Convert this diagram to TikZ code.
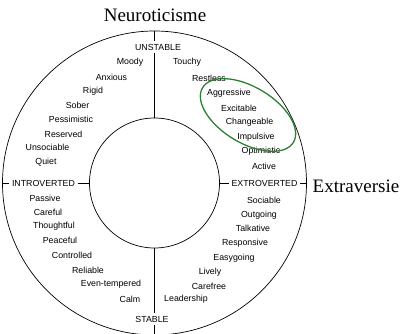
\documentclass[tikz,border=0pt]{standalone}
\usepackage{fontspec}
\setmainfont{Liberation Serif}
\setsansfont{Liberation Sans}
\usepackage{tikz}
\definecolor{ringgreen}{RGB}{45,128,48}

\begin{document}
\begin{tikzpicture}[x=1pt,y=-1pt]
\tikzstyle{trait}=[font=\fontsize{8.8}{10}\sffamily, inner sep=0pt]
\tikzstyle{pole}=[trait, fill=white, inner sep=2.5pt]
\tikzstyle{axis}=[font=\fontsize{19}{22}\selectfont, inner sep=0pt]
\tikzstyle{ring}=[circle, draw, line width=0.7pt, inner sep=0pt]
\useasboundingbox (0,0) rectangle (400,334);
\node[ring, minimum size=304pt] (outer) at (154.5,183) {};
\node[ring, minimum size=130pt] (inner) at (154.5,183) {};

\node[axis] (neuro) at (155,15) {Neuroticisme};
\node[axis] (extra) at (356,186) {Extraversie};

\node[pole] (unstable) at (158,47) {UNSTABLE};
\node[pole] (stable) at (152,319) {STABLE};
\node[pole] (intro) at (43.5,183) {INTROVERTED};
\node[pole] (extro) at (264.5,183) {EXTROVERTED};

\node[trait] (moody) at (130,62) {Moody};
\node[trait] (anxious) at (111.5,77) {Anxious};
\node[trait] (rigid) at (93,91) {Rigid};
\node[trait] (sober) at (77.5,105) {Sober};
\node[trait] (pessimistic) at (71,119) {Pessimistic};
\node[trait] (reserved) at (63.5,134) {Reserved};
\node[trait] (unsociable) at (47.5,147) {Unsociable};
\node[trait] (quiet) at (46,162) {Quiet};

\node[trait] (touchy) at (187,62) {Touchy};
\node[trait] (restless) at (209,78) {Restless};
\node[trait] (aggressive) at (229,93) {Aggressive};
\node[trait] (excitable) at (239,108) {Excitable};
\node[trait] (changeable) at (249.5,122) {Changeable};
\node[trait] (impulsive) at (256,137) {Impulsive};
\node[trait] (optimistic) at (261,151) {Optimistic};
\node[trait] (active) at (264,166) {Active};

\node[trait] (passive) at (45,198) {Passive};
\node[trait] (careful) at (48,212) {Careful};
\node[trait] (thoughtful) at (54,226) {Thoughtful};
\node[trait] (peaceful) at (60,240) {Peaceful};
\node[trait] (controlled) at (72,255) {Controlled};
\node[trait] (reliable) at (88,270) {Reliable};
\node[trait] (eventempered) at (111,284) {Even-tempered};
\node[trait] (calm) at (130,299) {Calm};

\node[trait] (sociable) at (264,200) {Sociable};
\node[trait] (outgoing) at (259,215) {Outgoing};
\node[trait] (talkative) at (253,228) {Talkative};
\node[trait] (responsive) at (245,243) {Responsive};
\node[trait] (easygoing) at (234,258) {Easygoing};
\node[trait] (lively) at (210,272) {Lively};
\node[trait] (carefree) at (209,286) {Carefree};
\node[trait] (leadership) at (186,299) {Leadership};

\path[draw, line width=0.7pt]
(outer.north) edge (outer.north |- unstable.north)
(outer.north |- unstable.south) edge (inner.north)
(inner.south) edge (inner.south |- stable.north)
(inner.south |- stable.south) edge (outer.south)
(outer.west) edge (intro.west)
(intro.east) edge (inner.west)
(inner.east) edge (extro.west)
(extro.east) edge (outer.east);

\draw[ringgreen, line width=1.3pt, shift={(248,115)}, rotate=-31]
(0,0) ellipse [x radius=53pt, y radius=28pt];
\end{tikzpicture}
\end{document}
